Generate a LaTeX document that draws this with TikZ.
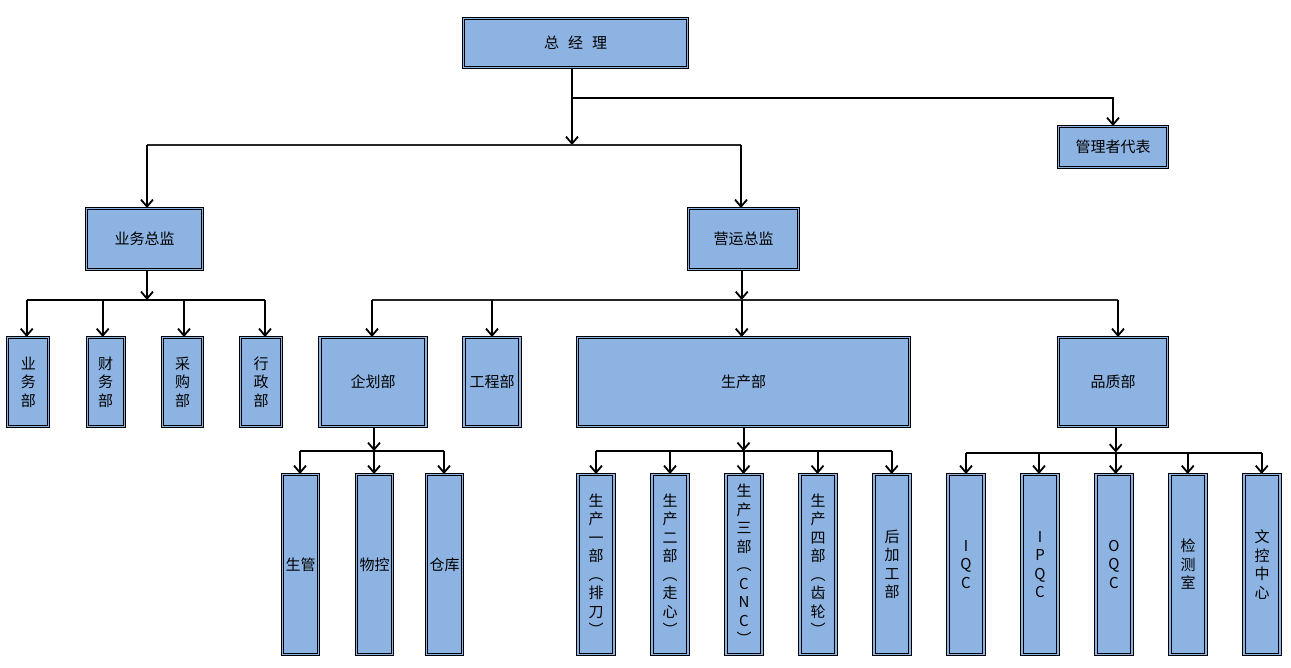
\documentclass[tikz,border=0pt]{standalone}
\usepackage{fontspec}
\newfontfamily\cjk{Noto Sans CJK SC}
\usetikzlibrary{arrows.meta}
\definecolor{boxblue}{HTML}{8DB3E2}
\tikzset{
  box/.style={draw=black, line width=1pt, double=boxblue, double distance=1.3pt,
    fill=boxblue, inner sep=0pt, align=center,
    font=\cjk\fontsize{15}{18.5}\selectfont},
  arr/.style={-{Straight Barb[length=7pt,width=12pt,line width=1.8pt]}, line width=2pt},
  ln/.style={line width=2pt},
  thinbus/.style={line width=1.3pt, draw=black!85},
}
\begin{document}
\begin{tikzpicture}[x=1pt,y=-1pt]
\useasboundingbox[fill=white] (0,0) rectangle (1291,668);
% top
\node[box, minimum width=224pt, minimum height=49pt] (gm) at (575.5,43) {总\hspace{9pt}经\hspace{9pt}理};
\node[box, minimum width=109pt, minimum height=41pt] (rep) at (1113,147) {管理者代表};
\node[box, minimum width=116pt, minimum height=61pt] (yw) at (144.5,239) {业务总监};
\node[box, minimum width=110pt, minimum height=61pt] (yy) at (743.5,239) {营运总监};
% row 2 left
\node[box, minimum width=41pt, minimum height=89pt] (d1) at (28.3,382) {业\\务\\部};
\node[box, minimum width=37pt, minimum height=89pt] (d2) at (105.7,382) {财\\务\\部};
\node[box, minimum width=40pt, minimum height=89pt] (d3) at (182.5,382) {采\\购\\部};
\node[box, minimum width=41pt, minimum height=89pt] (d4) at (261,382) {行\\政\\部};
% row 2 right
\node[box, minimum width=106pt, minimum height=89pt] (qh) at (373,382) {企划部};
\node[box, minimum width=56pt, minimum height=89pt] (gc) at (492,382) {工程部};
\node[box, minimum width=332pt, minimum height=89pt] (sc) at (743.5,382) {生产部};
\node[box, minimum width=109pt, minimum height=89pt] (pz) at (1113,382) {品质部};
% row 3
\tikzset{tall/.style={box, minimum width=36pt, minimum height=180pt}}
\node[tall] (s1) at (300.5,564.5) {生管};
\node[tall] (s2) at (374.5,564.5) {物控};
\node[tall] (s3) at (444.5,564.5) {仓库};
\node[tall] (p1) at (596,564.5) {生\\产\\一\\部\\︵\\排\\刀\\︶};
\node[tall] (p2) at (670,564.5) {生\\产\\二\\部\\︵\\走\\心\\︶};
\node[tall] (p3) at (744,564.5) {生\\产\\三\\部\\︵\\C\\N\\C\\︶};
\node[tall] (p4) at (818,564.5) {生\\产\\四\\部\\︵\\齿\\轮\\︶};
\node[tall] (p5) at (892,564.5) {后\\加\\工\\部};
\node[tall] (q1) at (966,564.5) {I\\Q\\C};
\node[tall] (q2) at (1040,564.5) {I\\P\\Q\\C};
\node[tall] (q3) at (1114,564.5) {O\\Q\\C};
\node[tall] (q4) at (1188,564.5) {检\\测\\室};
\node[tall] (q5) at (1262,564.5) {文\\控\\中\\心};
% connectors from gm
\coordinate (j1) at (572,98);
\coordinate (b1) at (572,145);
\coordinate (b1L) at (147,145);
\coordinate (b1R) at (741,145);
\draw[ln] (gm.south -| j1) -- (j1);
\draw[arr] (j1) -| (rep.north);
\draw[arr] (j1) -- (b1);
\draw[thinbus] (b1L) -- (b1R);
\draw[arr] (b1L) -- (b1L |- yw.north);
\draw[arr] (b1R) -- (b1R |- yy.north);
% yw branch
\coordinate (b2) at (147,300);
\coordinate (b2L) at (26.7,300);
\coordinate (b2R) at (265,300);
\draw[arr] (yw.south -| b2) -- (b2);
\draw[ln] (b2L) -- (b2R);
\draw[arr] (b2L) -- (b2L |- d1.north);
\draw[arr] (102.7,300) -- (102.7,300 |- d2.north);
\draw[arr] (184,300) -- (184,300 |- d3.north);
\draw[arr] (b2R) -- (b2R |- d4.north);
% yy branch
\coordinate (b3) at (741.7,300);
\coordinate (b3L) at (372,300);
\coordinate (b3R) at (1118,300);
\draw[arr] (yy.south -| b3) -- (b3);
\draw[thinbus] (b3L) -- (b3R);
\draw[arr] (b3) -- (b3 |- sc.north);
\draw[arr] (b3L) -- (b3L |- qh.north);
\draw[arr] (492,300) -- (492,300 |- gc.north);
\draw[arr] (b3R) -- (b3R |- pz.north);
% qh branch
\coordinate (b4) at (374,451);
\coordinate (b4L) at (300,451);
\coordinate (b4R) at (444,451);
\draw[arr] (qh.south -| b4) -- (b4);
\draw[ln] (b4L) -- (b4R);
\draw[arr] (b4L) -- (b4L |- s1.north);
\draw[arr] (b4) -- (b4 |- s2.north);
\draw[arr] (b4R) -- (b4R |- s3.north);
% sc branch
\coordinate (b5) at (743.5,451);
\coordinate (b5L) at (596,451);
\coordinate (b5R) at (891.7,451);
\draw[arr] (sc.south -| b5) -- (b5);
\draw[ln] (b5L) -- (b5R);
\draw[arr] (b5L) -- (b5L |- p1.north);
\draw[arr] (670,451) -- (670,451 |- p2.north);
\draw[arr] (b5) -- (b5 |- p3.north);
\draw[arr] (817.5,451) -- (817.5,451 |- p4.north);
\draw[arr] (b5R) -- (b5R |- p5.north);
% pz branch
\coordinate (b6) at (1115.7,452.5);
\coordinate (b6L) at (966,452.5);
\coordinate (b6R) at (1261.7,452.5);
\draw[arr] (pz.south -| b6) -- (b6);
\draw[ln] (b6L) -- (b6R);
\draw[arr] (b6L) -- (b6L |- q1.north);
\draw[arr] (1039,452.5) -- (1039,452.5 |- q2.north);
\draw[arr] (b6) -- (b6 |- q3.north);
\draw[arr] (1187.7,452.5) -- (1187.7,452.5 |- q4.north);
\draw[arr] (b6R) -- (b6R |- q5.north);
\end{tikzpicture}
\end{document}
